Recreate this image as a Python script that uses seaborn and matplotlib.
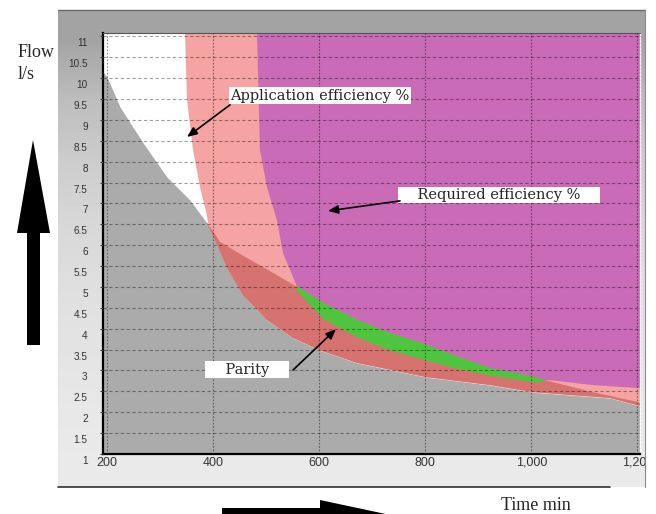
import numpy as np
import matplotlib
matplotlib.use("Agg")
import matplotlib.pyplot as plt
import matplotlib.transforms as mtransforms
import seaborn as sns

# region boundaries (x: time min, y: flow l/s)
# top edge of the grey zone
gray_x = [192, 199.5, 224, 267.5, 312.7, 356, 388, 399.5, 426, 456, 501, 550, 599.5, 671, 801, 922, 1003, 1148, 1205]
gray_y = [10.15, 10.03, 9.31, 8.45, 7.63, 7.08, 6.53, 6.22, 5.45, 4.80, 4.21, 3.78, 3.49, 3.18, 2.84, 2.65, 2.48, 2.34, 2.15]

# white / pink border (application efficiency)
wp_x = [346.7, 350.5, 361.8, 375, 388, 390]
wp_y = [11.08, 9.48, 8.28, 7.39, 6.72, 6.55]

# pink / magenta border (required efficiency)
pm_x = [482.5, 488, 501.4, 520, 531.6, 544.8, 558]
pm_y = [11.08, 8.28, 7.39, 6.60, 5.81, 5.41, 5.0]

# upper edge of the red zone before the parity band
red_x = [388, 412.7, 459.9, 507, 558]
red_y = [6.55, 6.08, 5.72, 5.38, 5.0]

# parity band (green)
green_x = [557.4, 607.6, 670.6, 733.4, 801.3, 859.2, 922, 1002.6, 1012, 1026]
green_hi = [5.01, 4.61, 4.21, 3.89, 3.61, 3.33, 3.05, 2.85, 2.82, 2.77]
green_lo = [4.93, 4.25, 3.81, 3.49, 3.25, 3.05, 2.89, 2.73, 2.72, 2.77]

# right end, after the parity band
mag_lo_x = [1035, 1116, 1199, 1205]
mag_lo_y = [2.77, 2.65, 2.58, 2.58]
pr_x = [1116, 1199, 1205]
pr_y = [2.48, 2.25, 2.22]

x_ticks = [200, 400, 600, 800, 1000, 1200]
x_labels = ["200", "400", "600", "800", "1,000", "1,200"]
y_ticks = [1, 1.5, 2, 2.5, 3, 3.5, 4, 4.5, 5, 5.5, 6, 6.5, 7, 7.5, 8, 8.5, 9, 9.5, 10, 10.5, 11]

# annotation boxes and arrows
notes = ["Application efficiency %", "    Required efficiency %    ", "    Parity    "]
note_xy = [(601.3, 9.58), (939.0, 7.20), (463.6, 3.02)]
arrow_tail = [(431.6, 9.36), (752.3, 7.06), (550.4, 3.01)]
arrow_head = [(350.5, 8.59), (616.4, 6.82), (631.5, 3.99)]

x_lim = (192, 1205)
y_lim = (1, 11.08)

c_gray = "#ababab"
c_pink = "#f5a3a3"
c_red = "#d6726f"
c_mag = "#c96bb6"
c_green = "#4fc43e"

sns.set_style("white")
plt.rcParams["font.family"] = ["Liberation Sans", "DejaVu Sans"]

fig = plt.figure(figsize=(6.56, 5.14), dpi=100)

# figure decorations in pixel coordinates
deco = fig.add_axes([0, 0, 1, 1], zorder=-5)
panel_shades = [0.64, 0.74, 0.80, 0.84, 0.87, 0.89, 0.905, 0.915]
deco.imshow(np.array(panel_shades).reshape(-1, 1), cmap="gray", vmin=0, vmax=1,
            extent=(58, 645, 487, 10), aspect="auto", interpolation="bilinear")
deco.plot([58, 645], [10, 10], color="#6a6a6a", lw=1)
deco.plot([58, 610], [487, 487], color="#303030", lw=1.2)
deco.plot([645, 645], [10, 487], color="#8a8a8a", lw=0.8)
deco.fill([33, 50, 40, 40, 27, 27, 17], [140, 233, 233, 345, 345, 233, 233], color="black", lw=0)
deco.fill([222, 320, 320, 395, 320, 320, 222], [508, 508, 500, 516, 532, 524, 524], color="black", lw=0)
deco.text(18, 57, "Flow", family="Liberation Serif", fontsize=13)
deco.text(18, 79, "l/s", family="Liberation Serif", fontsize=13)
deco.text(536, 506, "Time min", family="Liberation Serif", fontsize=13, ha="center", va="center")
deco.set_xlim(0, 656)
deco.set_ylim(514, 0)
deco.axis("off")

ax = fig.add_axes([103 / 656, 60 / 514, 537 / 656, 421 / 514])
ax.set_facecolor(c_gray)

y_top = y_lim[1]
ax.fill_between(gray_x, gray_y, y_top, color="white", lw=0)

gx_r = [x for x in gray_x if x > 390]
gy_r = [y for x, y in zip(gray_x, gray_y) if x > 390]
ax.fill(wp_x + gx_r + [x_lim[1]], wp_y + gy_r + [y_top], color=c_pink, lw=0)

red_top_x = red_x + green_x[1:] + pr_x
red_top_y = red_y + green_lo[1:] + pr_y
gx_b = [x for x in gray_x if x >= 388][::-1]
gy_b = [y for x, y in zip(gray_x, gray_y) if x >= 388][::-1]
ax.fill(red_top_x + gx_b, red_top_y + gy_b, color=c_red, lw=0)

ax.fill(pm_x + green_x[1:] + mag_lo_x + [x_lim[1]],
        pm_y + green_hi[1:] + mag_lo_y + [y_top], color=c_mag, lw=0)

ax.fill(green_x + green_x[::-1], green_hi + green_lo[::-1], color=c_green, lw=0)
sns.lineplot(x=green_x, y=green_hi, ax=ax, color=c_green, lw=0.6)
sns.lineplot(x=green_x, y=green_lo, ax=ax, color=c_green, lw=0.6)

ax.set_xlim(*x_lim)
ax.set_ylim(*y_lim)
ax.set_xticks(x_ticks)
ax.set_xticklabels(x_labels)
ax.set_yticks(y_ticks)
ax.set_yticklabels([f"{v:g}" for v in y_ticks])

ax.set_axisbelow(False)
ax.grid(axis="y", color="black", alpha=0.38, lw=0.8, ls=(0, (3, 2.2)))
ax.grid(axis="x", color="black", alpha=0.45, lw=0.8, ls=(0, (1.5, 1.5)))

for side in ["left", "bottom"]:
    ax.spines[side].set_color("black")
    ax.spines[side].set_linewidth(1.6)
ax.spines["top"].set_color("#555555")
ax.spines["top"].set_linewidth(0.8)
ax.spines["right"].set_color("white")
ax.spines["right"].set_linestyle(":")
ax.spines["right"].set_linewidth(1.0)

ax.tick_params(axis="y", length=2, width=0.8, pad=9.0, labelsize=7.2,
               labelcolor="#333333", color="#3a3a3a", direction="out", left=True)
ax.tick_params(axis="x", length=0, pad=2, labelsize=9, labelcolor="#333333")

# y labels sit a little below their grid line in the original
shift = mtransforms.ScaledTranslation(0, -6 / 100, fig.dpi_scale_trans)
for tick in ax.yaxis.get_major_ticks():
    tick.label1.set_transform(tick.label1.get_transform() + shift)

# the last x label is cut at the panel edge
clip = mtransforms.TransformedBbox(mtransforms.Bbox([[0.58, 0.27], [6.45, 5.04]]), fig.dpi_scale_trans)
for lab in ax.get_xticklabels():
    lab.set_clip_on(True)
    lab.set_clip_box(clip)

for text, (tx, ty), tail, head in zip(notes, note_xy, arrow_tail, arrow_head):
    ax.text(tx, ty, text, ha="center", va="center", family="DejaVu Serif", fontsize=10.5,
            bbox=dict(boxstyle="square,pad=0.08", fc="white", ec="none"), zorder=5)
    ax.annotate("", xy=head, xytext=tail, zorder=6,
                arrowprops=dict(arrowstyle="-|>,head_length=0.6,head_width=0.25", color="black",
                                lw=1.2, shrinkA=0, shrinkB=0, mutation_scale=10))

fig.savefig("out.png", dpi=100)
